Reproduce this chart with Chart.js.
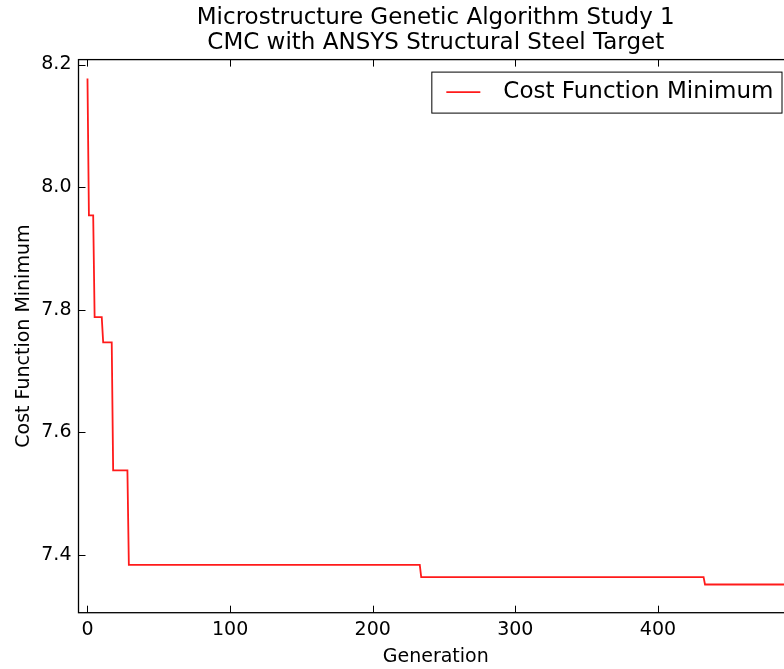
<!DOCTYPE html>
<html>
<head>
<meta charset="utf-8">
<script src="https://cdn.jsdelivr.net/npm/chart.js@4"></script>
<style>
  html, body { margin: 0; padding: 0; background: #fff; overflow: hidden; }
  #wrap { width: 800px; height: 669px; }
</style>
</head>
<body>
<div id="wrap"><canvas id="gaChart" width="800" height="669"></canvas></div>
<script>
// best cost per generation, vertices of the step curve
const generations = [0, 1, 4, 5, 10, 11, 17, 18, 28, 29, 233, 234, 432, 433, 499];
const costMinimum = [8.177, 7.954, 7.954, 7.788, 7.788, 7.747, 7.747, 7.538, 7.538, 7.384, 7.384, 7.364, 7.364, 7.352, 7.352];

const xTicks = [0, 100, 200, 300, 400];
const yTicks = [7.4, 7.6, 7.8, 8.0, 8.2];

const titleLines = ['Microstructure Genetic Algorithm Study 1', 'CMC with ANSYS Structural Steel Target'];
const seriesName = 'Cost Function Minimum';

const FONT = "'DejaVu Sans', sans-serif";

// matplotlib-like frame: title over the axes, box, inward ticks and a boxed legend
const framePlugin = {
    id: 'frame',
    afterDatasetsDraw(chart) {
        const {ctx, chartArea: a, scales: {x, y}} = chart;
        ctx.save();

        // title centred on the plot area, not on the canvas
        ctx.fillStyle = '#000';
        ctx.font = '23px ' + FONT;
        ctx.textAlign = 'center';
        ctx.textBaseline = 'middle';
        const cx = (a.left + a.right) / 2;
        titleLines.forEach((line, i) => ctx.fillText(line, cx, 17.6 + i * 25.3));

        ctx.strokeStyle = '#000';
        ctx.lineWidth = 1;
        const seg = (x1, y1, x2, y2) => {
            ctx.beginPath(); ctx.moveTo(x1, y1); ctx.lineTo(x2, y2); ctx.stroke();
        };
        x.ticks.forEach(t => {
            const px = Math.round(x.getPixelForValue(t.value)) + 0.5;
            seg(px, a.bottom, px, a.bottom - 7);
            seg(px, a.top, px, a.top + 7);
        });
        y.ticks.forEach(t => {
            const py = Math.round(y.getPixelForValue(t.value)) + 0.5;
            seg(a.left, py, a.left + 7, py);
            seg(a.right, py, a.right - 7, py);
        });
        ctx.lineWidth = 1.3;
        ctx.strokeRect(a.left, a.top, a.right - a.left, a.bottom - a.top);

        // legend
        const ds = chart.data.datasets[0];
        ctx.font = '23px ' + FONT;
        const textW = ctx.measureText(ds.label).width;
        const boxR = a.right - 11.5, boxT = a.top + 12, boxH = 41;
        const boxL = boxR - (15 + 34 + 23 + textW + 8);
        ctx.fillStyle = '#fff';
        ctx.fillRect(boxL, boxT, boxR - boxL, boxH);
        ctx.lineWidth = 1;
        ctx.strokeStyle = '#000';
        ctx.strokeRect(boxL + 0.5, boxT + 0.5, boxR - boxL, boxH);
        const midY = boxT + boxH / 2;
        ctx.strokeStyle = ds.borderColor;
        ctx.lineWidth = ds.borderWidth;
        seg(boxL + 15, midY, boxL + 49, midY);
        ctx.fillStyle = '#000';
        ctx.textBaseline = 'middle';
        ctx.textAlign = 'left';
        ctx.fillText(ds.label, boxL + 72, midY);
        ctx.restore();
    }
};

const ctx = document.getElementById('gaChart').getContext('2d');
new Chart(ctx, {
    type: 'line',
    data: {
        datasets: [{
            label: seriesName,
            data: generations.map((g, i) => ({x: g, y: costMinimum[i]})),
            borderColor: '#ff1a1a',
            borderWidth: 1.8,
            pointRadius: 0,
            tension: 0,
            fill: false
        }]
    },
    options: {
        responsive: false,
        animation: false,
        layout: { padding: { left: 0, right: 7, top: 59.6, bottom: 0 } },
        plugins: {
            legend: { display: false },
            tooltip: { enabled: false },
            title: { display: false }
        },
        scales: {
            x: {
                type: 'linear',
                min: -6.3,
                max: 494.7,
                afterBuildTicks: s => { s.ticks = xTicks.map(v => ({value: v})); },
                afterFit: s => { s.height = 56.3; },
                grid: { display: false, drawTicks: false },
                border: { display: false },
                ticks: {
                    color: '#000',
                    font: { family: FONT, size: 19 },
                    padding: 6,
                    maxRotation: 0
                },
                title: {
                    display: true,
                    text: 'Generation',
                    color: '#000',
                    font: { family: FONT, size: 19 },
                    padding: { top: 0, bottom: 1 }
                }
            },
            y: {
                type: 'linear',
                min: 7.306,
                max: 8.208,
                afterBuildTicks: s => { s.ticks = yTicks.map(v => ({value: v})); },
                afterFit: s => { s.width = 78.5; },
                grid: { display: false, drawTicks: false },
                border: { display: false },
                ticks: {
                    color: '#000',
                    font: { family: FONT, size: 19 },
                    padding: 7,
                    callback: v => v.toFixed(1)
                },
                title: {
                    display: true,
                    text: seriesName,
                    color: '#000',
                    font: { family: FONT, size: 19 },
                    padding: { top: 12.5, bottom: 0 }
                }
            }
        }
    },
    plugins: [framePlugin]
});
</script>
</body>
</html>
